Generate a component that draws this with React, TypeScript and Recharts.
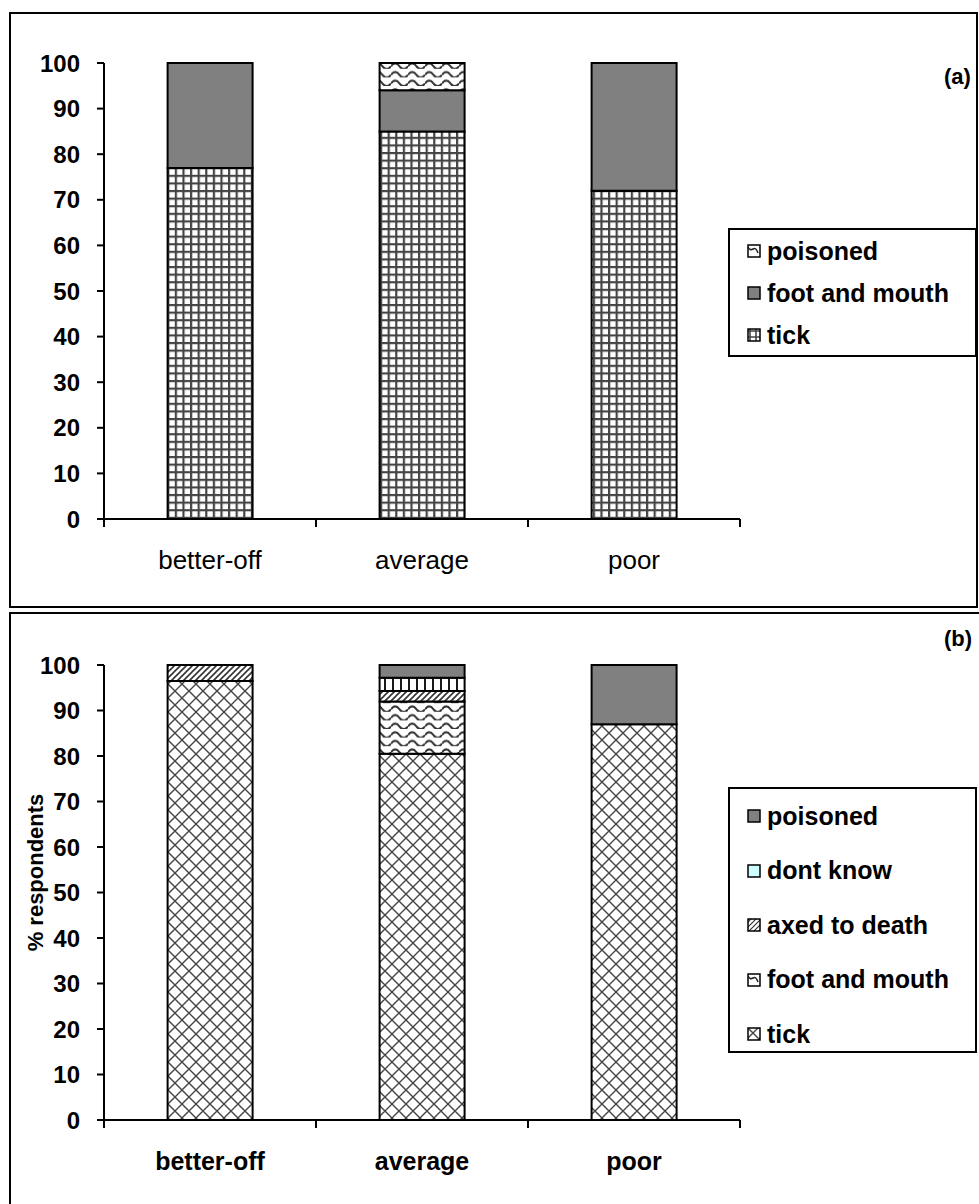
import React from "react"
import { BarChart, Bar, XAxis, YAxis, Legend } from "recharts"

const categories = ["better-off", "average", "poor"]
const yTicks = [0, 10, 20, 30, 40, 50, 60, 70, 80, 90, 100]

// panel (a)
const tickA = [77, 85, 72]
const footMouthA = [23, 9, 28]
const poisonedA = [0, 6, 0]

// panel (b)
const tickB = [96.5, 80.5, 87]
const footMouthB = [0, 11.5, 0]
const axedB = [3.5, 2.3, 0]
const dontKnowB = [0, 2.9, 0]
const poisonedB = [0, 2.8, 13]

const FONT = "'Liberation Sans', Arial, sans-serif"

const dataA = categories.map((c, i) => ({
  name: c,
  tick: tickA[i],
  footMouth: footMouthA[i],
  poisoned: poisonedA[i],
}))

const dataB = categories.map((c, i) => ({
  name: c,
  tick: tickB[i],
  footMouth: footMouthB[i],
  axed: axedB[i],
  dontKnow: dontKnowB[i],
  poisoned: poisonedB[i],
}))

interface Series {
  key: string
  name: string
  fill: string
  swatch: string
}

const seriesA: Series[] = [
  { key: "tick", name: "tick", fill: "url(#grid)", swatch: "url(#gridSmall)" },
  { key: "footMouth", name: "foot and mouth", fill: "#808080", swatch: "#808080" },
  { key: "poisoned", name: "poisoned", fill: "url(#wave)", swatch: "url(#waveSmall)" },
]

const seriesB: Series[] = [
  { key: "tick", name: "tick", fill: "url(#cross)", swatch: "url(#crossSmall)" },
  { key: "footMouth", name: "foot and mouth", fill: "url(#wave)", swatch: "url(#waveSmall)" },
  { key: "axed", name: "axed to death", fill: "url(#diag)", swatch: "url(#diagSmall)" },
  { key: "dontKnow", name: "dont know", fill: "url(#vstripe)", swatch: "#ccffff" },
  { key: "poisoned", name: "poisoned", fill: "#808080", swatch: "#808080" },
]

function Patterns() {
  return (
    <svg width={0} height={0} style={{ position: "absolute" }}>
      <defs>
        <pattern id="grid" width={7.6} height={7.6} patternUnits="userSpaceOnUse">
          <rect width={7.6} height={7.6} fill="#fff" />
          <path d="M0 1.1 H7.6 M1.1 0 V7.6" stroke="#444" strokeWidth={2.2} />
        </pattern>
        <pattern id="gridSmall" width={6} height={6} patternUnits="userSpaceOnUse">
          <rect width={6} height={6} fill="#fff" />
          <path d="M0 3 H6 M3 0 V6" stroke="#444" strokeWidth={1.6} />
        </pattern>
        <pattern id="cross" width={14} height={14} patternUnits="userSpaceOnUse">
          <rect width={14} height={14} fill="#fff" />
          <path d="M-1 -1 L15 15 M15 -1 L-1 15" stroke="#444" strokeWidth={1.4} />
        </pattern>
        <pattern id="crossSmall" width={12} height={12} patternUnits="userSpaceOnUse">
          <rect width={12} height={12} fill="#fff" />
          <path d="M0 0 L12 12 M12 0 L0 12" stroke="#444" strokeWidth={1.4} />
        </pattern>
        <pattern id="wave" width={17} height={8.6} patternUnits="userSpaceOnUse">
          <rect width={17} height={8.6} fill="#fff" />
          <path d="M0 6 Q4.25 0.5 8.5 6 T17 6" fill="none" stroke="#333" strokeWidth={2} />
        </pattern>
        <pattern id="waveSmall" width={12} height={12} patternUnits="userSpaceOnUse">
          <rect width={12} height={12} fill="#fff" />
          <path d="M1 3 Q3 7 6 5 T11 9" fill="none" stroke="#222" strokeWidth={1.6} />
        </pattern>
        <pattern id="diag" width={6} height={6} patternUnits="userSpaceOnUse">
          <rect width={6} height={6} fill="#fff" />
          <path d="M-1 7 L7 -1 M-1 1 L1 -1 M5 7 L7 5" stroke="#333" strokeWidth={1.6} />
        </pattern>
        <pattern id="diagSmall" width={5} height={5} patternUnits="userSpaceOnUse">
          <rect width={5} height={5} fill="#fff" />
          <path d="M-1 6 L6 -1 M-1 1 L1 -1 M4 6 L6 4" stroke="#333" strokeWidth={1.2} />
        </pattern>
        <pattern id="vstripe" width={8} height={8} patternUnits="userSpaceOnUse">
          <rect width={8} height={8} fill="#fff" />
          <path d="M1 0 V8" stroke="#000" strokeWidth={1.8} />
        </pattern>
      </defs>
    </svg>
  )
}

function LegendBox({ items, itemHeight, height }: { items: Series[]; itemHeight: number; height: number }) {
  return (
    <div
      style={{
        border: "2px solid #000",
        background: "#fff",
        width: 249,
        height,
        boxSizing: "border-box",
        paddingLeft: 17,
        fontFamily: FONT,
      }}
    >
      {[...items].reverse().map((it) => (
        <div key={it.key} style={{ display: "flex", alignItems: "center", height: itemHeight }}>
          <svg width={14} height={14}>
            <rect x={1} y={1} width={12} height={12} fill={it.swatch} stroke="#000" strokeWidth={1.5} />
          </svg>
          <span style={{ marginLeft: 6, fontSize: 25, fontWeight: "bold", color: "#000" }}>{it.name}</span>
        </div>
      ))}
    </div>
  )
}

const tickStyle = { fontSize: 24, fontWeight: "bold" as const, fill: "#000", fontFamily: FONT }

const LABEL_GAP = 32

// category label plus the boundary tick marks on either side of its band
function CategoryTick(props: any) {
  const { x, y, payload, index, visibleTicksCount, width, bold } = props
  const band = width / visibleTicksCount
  const axisY = y - LABEL_GAP
  const left = x - band / 2
  const right = x + band / 2
  return (
    <g>
      <line x1={left} x2={left} y1={axisY} y2={axisY + 8} stroke="#000" strokeWidth={2} />
      {index === visibleTicksCount - 1 && (
        <line x1={right} x2={right} y1={axisY} y2={axisY + 8} stroke="#000" strokeWidth={2} />
      )}
      <text
        x={x}
        y={y}
        dy="0.71em"
        textAnchor="middle"
        fontSize={bold ? 25 : 26}
        fontWeight={bold ? "bold" : "normal"}
        fontFamily={FONT}
        fill="#000"
      >
        {payload.value}
      </text>
    </g>
  )
}

function Panel({
  data,
  series,
  top,
  height,
  marginTop,
  marginBottom,
  boldLabels,
  legendTop,
  legendHeight,
  itemHeight,
  yLabel,
}: {
  data: any[]
  series: Series[]
  top: number
  height: number
  marginTop: number
  marginBottom: number
  boldLabels: boolean
  legendTop: number
  legendHeight: number
  itemHeight: number
  yLabel?: string
}) {
  return (
    <div style={{ position: "absolute", left: 0, top }}>
      <BarChart
        width={979}
        height={height}
        data={data}
        barCategoryGap="30%"
        margin={{ top: marginTop, right: 239, bottom: marginBottom, left: 0 }}
      >
        <XAxis
          dataKey="name"
          height={60}
          axisLine={{ stroke: "#000", strokeWidth: 2 }}
          tickLine={false}
          tickSize={0}
          tickMargin={LABEL_GAP}
          interval={0}
          tick={(p: any) => <CategoryTick {...p} bold={boldLabels} />}
        />
        <YAxis
          domain={[0, 100]}
          ticks={yTicks}
          interval={0}
          width={104}
          tickSize={7}
          tickMargin={17}
          tick={tickStyle}
          tickLine={{ stroke: "#000", strokeWidth: 2 }}
          axisLine={{ stroke: "#000", strokeWidth: 2 }}
          label={
            yLabel
              ? (props: any) => {
                  const vb = props.viewBox
                  const cx = vb.x + 35
                  const cy = vb.y + vb.height / 2 - 20
                  return (
                    <text
                      x={cx}
                      y={cy}
                      transform={`rotate(-90 ${cx} ${cy})`}
                      textAnchor="middle"
                      dominantBaseline="central"
                      fontSize={22}
                      fontWeight="bold"
                      fontFamily={FONT}
                      fill="#000"
                    >
                      {yLabel}
                    </text>
                  )
                }
              : undefined
          }
        />
        {series.map((s) => (
          <Bar
            key={s.key}
            dataKey={s.key}
            name={s.name}
            stackId="a"
            fill={s.fill}
            stroke="#000"
            strokeWidth={2}
            isAnimationActive={false}
          />
        ))}
        <Legend
          layout="vertical"
          align="center"
          verticalAlign="middle"
          wrapperStyle={{ position: "absolute", left: 728, top: legendTop, width: 249, height: legendHeight }}
          content={() => <LegendBox items={series} itemHeight={itemHeight} height={legendHeight} />}
        />
      </BarChart>
    </div>
  )
}

export default function App() {
  return (
    <div
      style={{
        position: "absolute",
        left: 0,
        top: 0,
        width: 979,
        height: 1204,
        background: "#fff",
        overflow: "hidden",
        fontFamily: FONT,
      }}
    >
      <Patterns />
      <div
        style={{
          position: "absolute",
          left: 9,
          top: 12,
          width: 969,
          height: 596,
          border: "2px solid #000",
          boxSizing: "border-box",
        }}
      />
      <div
        style={{
          position: "absolute",
          left: 9,
          top: 612,
          width: 975,
          height: 610,
          border: "2px solid #000",
          boxSizing: "border-box",
        }}
      />
      <Panel
        data={dataA}
        series={seriesA}
        top={0}
        height={600}
        marginTop={63}
        marginBottom={21}
        boldLabels={false}
        legendTop={228}
        legendHeight={129}
        itemHeight={42}
      />
      <Panel
        data={dataB}
        series={seriesB}
        top={600}
        height={604}
        marginTop={65}
        marginBottom={24}
        boldLabels
        legendTop={187}
        legendHeight={266}
        itemHeight={54.5}
        yLabel="% respondents"
      />
      <div style={{ position: "absolute", left: 944, top: 64, fontSize: 22, fontWeight: "bold" }}>(a)</div>
      <div style={{ position: "absolute", left: 944, top: 626, fontSize: 22, fontWeight: "bold" }}>(b)</div>
    </div>
  )
}
